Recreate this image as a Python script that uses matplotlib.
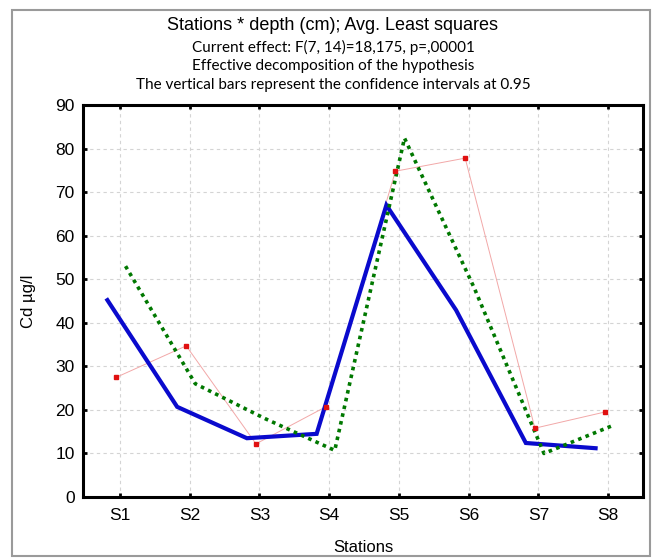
import matplotlib
matplotlib.use('Agg')
import matplotlib.pyplot as plt
import numpy as np
from matplotlib.patches import Rectangle

# datos
estaciones = ['S1', 'S2', 'S3', 'S4', 'S5', 'S6', 'S7', 'S8']
serie_azul = [45.2, 20.7, 13.5, 14.5, 67.0, 42.9, 12.4, 11.2]
serie_roja = [27.5, 34.7, 12.2, 20.7, 74.8, 77.8, 15.8, 19.5]
serie_verde = [53.0, 26.0, 18.0, 10.7, 82.4, 48.0, 10.0, 16.5]

titulo1 = 'Stations * depth (cm); Avg. Least squares'
titulo2 = 'Current effect: F(7, 14)=18,175, p=,00001'
titulo3 = 'Effective decomposition of the hypothesis'
titulo4 = 'The vertical bars represent the confidence intervals at 0.95'

plt.rcParams['font.family'] = ['Liberation Sans', 'DejaVu Sans']

W, H = 654, 560
fig = plt.figure(figsize=(W / 100, H / 100), dpi=100)
ax = fig.add_axes([83 / W, 1 - 497 / H, 560 / W, 392 / H])

x = np.arange(1, len(estaciones) + 1)

# cada serie va un poco desplazada en x
ax.plot(x - 0.18, serie_azul, color='#0a0acd', linewidth=3.0, solid_joinstyle='miter', zorder=3)
ax.plot(x - 0.05, serie_roja, color='#f2a8a8', linewidth=0.7, zorder=2)
ax.plot(x - 0.05, serie_roja, 's', color='#e01010', markersize=2.2, zorder=4)
ax.plot(x + 0.08, serie_verde, color='#007800', linewidth=2.6, linestyle=(0, (1, 1.2)), zorder=3)

ax.set_xlim(0.47, 8.5)
ax.set_ylim(0, 90)
ax.set_xticks(x)
ax.set_xticklabels(estaciones)
ax.set_yticks(np.arange(0, 91, 10))

ax.grid(True, color='#d4d4d4', linestyle=(0, (3, 3)), linewidth=0.8)
ax.set_axisbelow(True)

for s in ax.spines.values():
    s.set_linewidth(2.2)
    s.set_color('black')

ax.tick_params(direction='in', length=3, width=2, top=True, right=True,
               labeltop=False, labelright=False, labelsize=12.5)
ax.tick_params(axis='x', pad=8)
ax.tick_params(axis='y', pad=6)

ax.set_xlabel('Stations', fontsize=12)
ax.xaxis.set_label_coords(0.5, (497 - 547) / 392)
ax.xaxis.label.set_va('center')
ax.set_ylabel('Cd µg/l', fontsize=12, va='center')
ax.yaxis.set_label_coords((28 - 83) / 560, 0.5)

# titulos
cx = 333 / W
fig.text(cx, 1 - 26 / H, titulo1, ha='center', va='center', fontsize=13)
for texto, yy in [(titulo2, 47), (titulo3, 66), (titulo4, 85)]:
    fig.text(cx, 1 - yy / H, texto, ha='center', va='center', fontsize=11,
             family=['Lato', 'DejaVu Sans'])

# marco gris de la figura
fig.patches.append(Rectangle((12 / W, 4 / H), 638 / W, 546 / H, transform=fig.transFigure,
                             fill=False, edgecolor='#9a9a9a', linewidth=1.5))

fig.savefig('out.png', dpi=100)
